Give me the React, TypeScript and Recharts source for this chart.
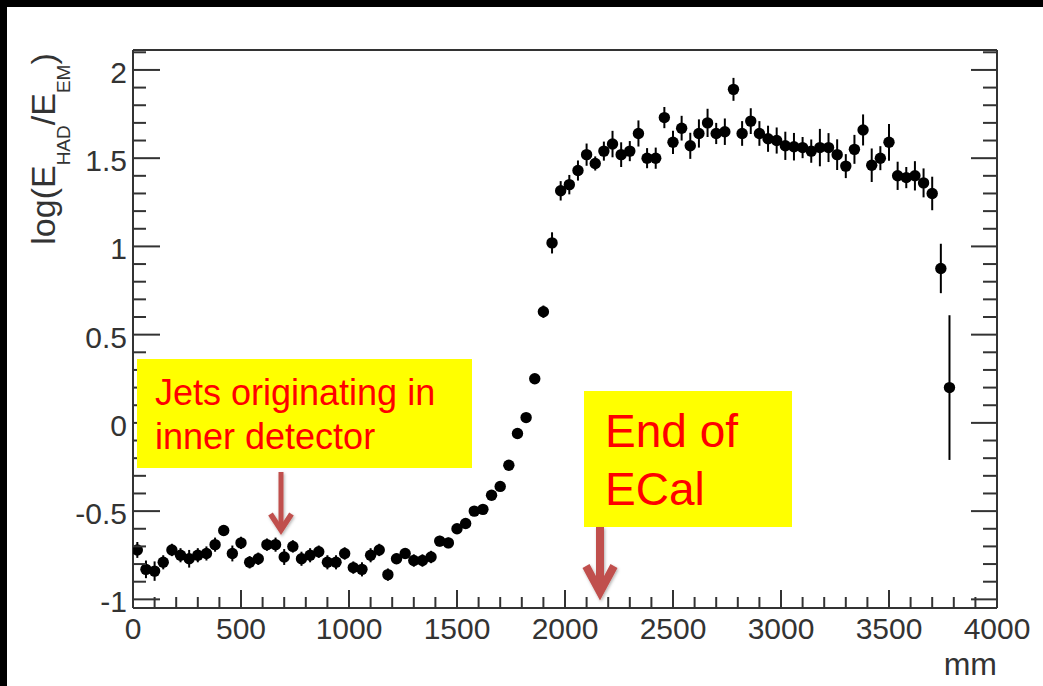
import React from 'react';
import { ScatterChart, Scatter, XAxis, YAxis, ErrorBar } from 'recharts';

// bin centres (mm)
const binX = [
  20, 60, 100, 140, 180, 220, 260, 300, 340, 380,
  420, 460, 500, 540, 580, 620, 660, 700, 740, 780,
  820, 860, 900, 940, 980, 1020, 1060, 1100, 1140, 1180,
  1220, 1260, 1300, 1340, 1380, 1420, 1460, 1500, 1540, 1580,
  1620, 1660, 1700, 1740, 1780, 1820, 1860, 1900, 1940, 1980,
  2020, 2060, 2100, 2140, 2180, 2220, 2260, 2300, 2340, 2380,
  2420, 2460, 2500, 2540, 2580, 2620, 2660, 2700, 2740, 2780,
  2820, 2860, 2900, 2940, 2980, 3020, 3060, 3100, 3140, 3180,
  3220, 3260, 3300, 3340, 3380, 3420, 3460, 3500, 3540, 3580,
  3620, 3660, 3700, 3740, 3780,
];

// log(E_HAD/E_EM) per bin
const ratio = [
  -0.72, -0.83, -0.84, -0.79, -0.72, -0.75, -0.77, -0.75, -0.74, -0.69,
  -0.61, -0.74, -0.68, -0.79, -0.77, -0.69, -0.69, -0.76, -0.7, -0.77,
  -0.75, -0.73, -0.79, -0.79, -0.74, -0.82, -0.83, -0.75, -0.72, -0.86,
  -0.77, -0.74, -0.78, -0.78, -0.76, -0.67, -0.68, -0.6, -0.57, -0.5,
  -0.49, -0.41, -0.36, -0.24, -0.06, 0.03, 0.25, 0.63, 1.02, 1.315,
  1.35, 1.43, 1.52, 1.47, 1.54, 1.58, 1.52, 1.54, 1.64, 1.5,
  1.5, 1.73, 1.59, 1.67, 1.57, 1.64, 1.7, 1.64, 1.65, 1.89,
  1.64, 1.71, 1.64, 1.61, 1.6, 1.57, 1.565, 1.56, 1.54, 1.56,
  1.56, 1.52, 1.455, 1.55, 1.66, 1.46, 1.5, 1.59, 1.4, 1.39,
  1.4, 1.36, 1.3, 0.875, 0.2,
];

// statistical error per bin
const ratioErr = [
  0.045, 0.05, 0.055, 0.04, 0.035, 0.04, 0.05, 0.04, 0.04, 0.04,
  0.03, 0.045, 0.035, 0.035, 0.035, 0.035, 0.04, 0.045, 0.035, 0.04,
  0.04, 0.035, 0.04, 0.04, 0.035, 0.035, 0.04, 0.04, 0.035, 0.035,
  0.03, 0.03, 0.035, 0.035, 0.035, 0.03, 0.03, 0.025, 0.025, 0.025,
  0.025, 0.02, 0.02, 0.02, 0.02, 0.02, 0.02, 0.035, 0.06, 0.055,
  0.055, 0.057, 0.063, 0.04, 0.054, 0.075, 0.07, 0.057, 0.074, 0.057,
  0.06, 0.06, 0.066, 0.07, 0.074, 0.08, 0.08, 0.06, 0.075, 0.065,
  0.07, 0.073, 0.07, 0.074, 0.074, 0.08, 0.078, 0.06, 0.066, 0.106,
  0.082, 0.087, 0.068, 0.082, 0.088, 0.095, 0.068, 0.104, 0.08, 0.06,
  0.083, 0.082, 0.095, 0.14, 0.41,
];

const xLabels = [0, 500, 1000, 1500, 2000, 2500, 3000, 3500, 4000];
const yLabels = [-1, -0.5, 0, 0.5, 1, 1.5, 2];

// minor ticks: every 100 mm / every 0.1
const xTicks = Array.from({ length: 41 }, (_, k) => k * 100);
const yTicks = Array.from({ length: 32 }, (_, k) => (k - 10) / 10);

const points = binX.map((x, i) => ({ x, y: ratio[i], err: ratioErr[i] }));

const FONT = '"Liberation Sans", Arial, Helvetica, sans-serif';
const AXIS = '#333';
const TXT = '#333';

const isXMajor = (v: number) => xLabels.includes(v);
const isYMajor = (v: number) => yLabels.some((l) => Math.abs(l - v) < 1e-9);

const BottomTick = ({ x, y, payload }: any) => {
  const major = isXMajor(payload.value);
  return (
    <g>
      <line x1={x} x2={x} y1={y} y2={y - (major ? 18 : 11)} stroke={AXIS} strokeWidth={2} />
      {major && (
        <text x={x} y={y + 31} textAnchor="middle" fontSize={30} fontFamily={FONT} fill={TXT}>
          {payload.value}
        </text>
      )}
    </g>
  );
};

const TopTick = ({ x, y, payload }: any) => {
  const major = isXMajor(payload.value);
  return <line x1={x} x2={x} y1={y} y2={y + (major ? 18 : 10)} stroke={AXIS} strokeWidth={2} />;
};

const LeftTick = ({ x, y, payload }: any) => {
  const major = isYMajor(payload.value);
  return (
    <g>
      <line x1={x} x2={x + (major ? 27 : 13)} y1={y} y2={y} stroke={AXIS} strokeWidth={2} />
      {major && (
        <text x={x - 6} y={y + 13} textAnchor="end" fontSize={30} fontFamily={FONT} fill={TXT}>
          {String(payload.value)}
        </text>
      )}
    </g>
  );
};

const RightTick = ({ x, y, payload }: any) => {
  const major = isYMajor(payload.value);
  return <line x1={x} x2={x - (major ? 26 : 14)} y1={y} y2={y} stroke={AXIS} strokeWidth={2} />;
};

const Marker = (p: any) => <circle cx={p.cx} cy={p.cy} r={5.7} fill="#000" />;

export default function App() {
  return (
    <div style={{ position: 'fixed', left: 0, top: 0, width: 1043, height: 686, background: '#000', overflow: 'hidden' }}>
      <div style={{ position: 'absolute', left: 7, top: 7, width: 1036, height: 679, background: '#fff' }} />
      <div style={{ position: 'absolute', left: 0, top: 0 }}>
        <ScatterChart width={1043} height={686} margin={{ top: 49, right: 45, bottom: 77, left: 132 }}>
          <XAxis
            xAxisId="b"
            type="number"
            dataKey="x"
            domain={[0, 4000]}
            ticks={xTicks}
            interval={0}
            height={1}
            tickSize={0}
            tickMargin={0}
            tickLine={false}
            axisLine={{ stroke: AXIS, strokeWidth: 2 }}
            tick={(p: any) => <BottomTick {...p} />}
            allowDataOverflow
          />
          <XAxis
            xAxisId="t"
            orientation="top"
            type="number"
            domain={[0, 4000]}
            ticks={xTicks}
            interval={0}
            height={1}
            tickSize={0}
            tickMargin={0}
            tickLine={false}
            axisLine={{ stroke: AXIS, strokeWidth: 2 }}
            tick={(p: any) => <TopTick {...p} />}
            allowDataOverflow
          />
          <YAxis
            yAxisId="l"
            type="number"
            dataKey="y"
            domain={[-1.049, 2.113]}
            ticks={yTicks}
            interval={0}
            width={1}
            tickSize={0}
            tickMargin={0}
            tickLine={false}
            axisLine={{ stroke: AXIS, strokeWidth: 2 }}
            tick={(p: any) => <LeftTick {...p} />}
            allowDataOverflow
          />
          <YAxis
            yAxisId="r"
            orientation="right"
            type="number"
            domain={[-1.049, 2.113]}
            ticks={yTicks}
            interval={0}
            width={1}
            tickSize={0}
            tickMargin={0}
            tickLine={false}
            axisLine={{ stroke: AXIS, strokeWidth: 2 }}
            tick={(p: any) => <RightTick {...p} />}
            allowDataOverflow
          />
          <Scatter xAxisId="b" yAxisId="l" data={points} shape={Marker} isAnimationActive={false}>
            <ErrorBar dataKey="err" direction="y" width={0} stroke="#000" strokeWidth={2} />
          </Scatter>
        </ScatterChart>
      </div>
      <svg width={1043} height={686} style={{ position: 'absolute', left: 0, top: 0, pointerEvents: 'none' }}>
        <defs>
          <filter id="sh" x="-50%" y="-20%" width="200%" height="140%">
            <feDropShadow dx="1" dy="1.5" stdDeviation="1.5" floodColor="#000" floodOpacity="0.3" />
          </filter>
        </defs>
        {/* y axis title */}
        <text
          x={55}
          y={149}
          transform="rotate(-90 55 149)"
          textAnchor="middle"
          fontSize={34}
          fontFamily={FONT}
          fill={TXT}
        >
          log(E
          <tspan fontSize={19} dy={15}>HAD</tspan>
          <tspan dy={-15}>/E</tspan>
          <tspan fontSize={19} dy={15}>EM</tspan>
          <tspan dy={-15}>)</tspan>
        </text>
        <text x={997} y={675} textAnchor="end" fontSize={32} fontFamily={FONT} fill={TXT}>
          mm
        </text>

        {/* annotation 1 */}
        <rect x={137} y={359} width={335} height={109} fill="#ffff00" />
        <text x={155} y={405} fontSize={36} fontFamily={FONT} fill="#ff0000">Jets originating in</text>
        <text x={155} y={449} fontSize={36} fontFamily={FONT} fill="#ff0000">inner detector</text>
        <g filter="url(#sh)" stroke="#c0504d" fill="none">
          <line x1={281} x2={281} y1={472} y2={529} strokeWidth={5} />
          <polyline points="270.5,514 281,530 291.5,514" strokeWidth={5.5} />
        </g>

        {/* annotation 2 */}
        <rect x={584} y={391} width={208} height={136} fill="#ffff00" />
        <text x={605} y={447} fontSize={46} fontFamily={FONT} fill="#ff0000">End of</text>
        <text x={605} y={505} fontSize={46} fontFamily={FONT} fill="#ff0000">ECal</text>
        <g filter="url(#sh)" stroke="#c0504d" fill="none">
          <line x1={600} x2={600} y1={527} y2={590} strokeWidth={8} />
          <polyline points="586,566 600,592 614,566" strokeWidth={8} />
        </g>
      </svg>
    </div>
  );
}
